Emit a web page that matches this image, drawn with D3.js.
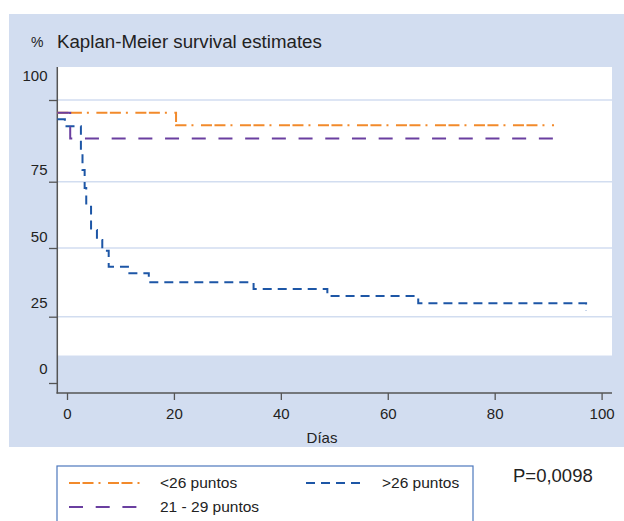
<!DOCTYPE html>
<html>
<head>
<meta charset="utf-8">
<script src="https://cdn.jsdelivr.net/npm/d3@7"></script>
<style>
    body { margin: 0; background: white; }
    svg { display: block; font-family: "Liberation Sans", Arial, sans-serif; }
</style>
</head>
<body>
<svg></svg>
<script>
// Survival data (days, percent surviving)
const days_lt26 = [-1.8, 20.4, 91.1]
const surv_lt26 = [96.1, 92.3, 92.3]

const days_21_29 = [-1.8, 0.6, 92.3]
const surv_21_29 = [96.1, 88.2, 88.2]

const days_gt26 = [-1.8, -0.4, 2.6, 2.9, 3.3, 3.6, 4.5, 5.6, 6.6, 7.8, 11.4, 15.3, 34.9, 48.7, 65.7, 97.1]
const surv_gt26 = [94.1, 92.0, 84.7, 78.6, 72.6, 65.6, 56.8, 53.0, 49.0, 43.2, 40.8, 37.5, 35.1, 32.5, 29.9, 27.2]

const y_ticks = [0, 25, 50, 75, 100]
const x_ticks = [0, 20, 40, 60, 80, 100]

const series_names = ["<26 puntos", ">26 puntos", "21 - 29 puntos"]
const series_colors = ["#f28a2b", "#1d56a6", "#6a3fa0"]
const series_dashes = ["11,2.5,11,5,2,7.5", "9,6", "14,12.7"]

const width = 624
const height = 521
const bg_color = "#d2ddf0"

const svg = d3.select("svg")
    .attr("width", width)
    .attr("height", height)

// Scales (the vertical axis in the original is not evenly spaced)
const x = d3.scaleLinear().domain([0, 100]).range([67, 601.6])
const y = d3.scaleLinear().domain(y_ticks).range([383, 316.7, 248, 181.7, 100])
const y_label = d3.scaleLinear().domain(y_ticks).range([369, 302.5, 237, 169.5, 75.3])

// Background and plot region
svg.append("rect")
    .attr("x", 9).attr("y", 14)
    .attr("width", width - 9).attr("height", 447 - 14)
    .attr("fill", bg_color)

svg.append("rect")
    .attr("x", 57).attr("y", 67)
    .attr("width", 612 - 57).attr("height", 355.5 - 67)
    .attr("fill", "white")

// Grid lines
svg.append("g")
    .selectAll("line")
    .data(y_ticks.filter(d => d > 0))
    .enter()
    .append("line")
    .attr("x1", 57).attr("x2", 612)
    .attr("y1", d => y(d)).attr("y2", d => y(d))
    .style("stroke", bg_color)
    .style("stroke-width", 1.6)

// Title
svg.append("text")
    .attr("x", 31).attr("y", 47)
    .attr("font-size", "14px")
    .attr("fill", "#222")
    .text("%")

svg.append("text")
    .attr("x", 57).attr("y", 47.5)
    .attr("font-size", "18.7px")
    .attr("fill", "#222")
    .text("Kaplan-Meier survival estimates")

// Axes
const y_axis = svg.append("g")
    .attr("transform", "translate(57,0)")
    .call(d3.axisLeft(y).tickValues(y_ticks).tickSize(8).tickFormat(""))
y_axis.select(".domain").remove()
y_axis.selectAll("line").style("stroke", "#555").style("stroke-width", 1.3)

svg.append("g")
    .selectAll("text")
    .data(y_ticks)
    .enter()
    .append("text")
    .attr("x", 47.5)
    .attr("y", d => y_label(d))
    .attr("dy", "0.36em")
    .attr("text-anchor", "end")
    .attr("font-size", "15px")
    .attr("fill", "#222")
    .text(d => d)

const x_axis = svg.append("g")
    .attr("transform", "translate(0,393)")
    .call(d3.axisBottom(x).tickValues(x_ticks).tickSize(7).tickPadding(8))
x_axis.select(".domain").remove()
x_axis.selectAll("line").style("stroke", "#555").style("stroke-width", 1.3)
x_axis.selectAll("text")
    .attr("font-size", "15px")
    .attr("font-family", "Liberation Sans, Arial, sans-serif")
    .attr("fill", "#222")

svg.append("line")
    .attr("x1", 57.3).attr("x2", 57.3)
    .attr("y1", 67).attr("y2", 393.5)
    .style("stroke", "#555").style("stroke-width", 1.5)

svg.append("line")
    .attr("x1", 56.5).attr("x2", 612)
    .attr("y1", 393).attr("y2", 393)
    .style("stroke", "#555").style("stroke-width", 1.5)

svg.append("text")
    .attr("x", 322).attr("y", 443)
    .attr("text-anchor", "middle")
    .attr("font-size", "15px")
    .attr("fill", "#222")
    .text("Días")

// Survival curves
const line = d3.line()
    .x(d => x(d[0]))
    .y(d => y(d[1]))
    .curve(d3.curveStepAfter)

const curves = [
    d3.zip(days_lt26, surv_lt26),
    d3.zip(days_gt26, surv_gt26),
    d3.zip(days_21_29, surv_21_29),
]

svg.append("g")
    .selectAll("path")
    .data(curves)
    .enter()
    .append("path")
    .attr("d", d => line(d))
    .attr("fill", "none")
    .style("stroke", (d, i) => series_colors[i])
    .style("stroke-width", 2)
    .style("stroke-dasharray", (d, i) => series_dashes[i])

// Legend
svg.append("rect")
    .attr("x", 57).attr("y", 466)
    .attr("width", 473 - 57).attr("height", 80)
    .attr("fill", "white")
    .style("stroke", "#4d78bd")
    .style("stroke-width", 1.2)

const legend_pos = [[69, 483], [306, 483], [69, 507]]
const legend_len = [78, 57, 78]

const legend = svg.append("g")
    .selectAll("g")
    .data(series_names)
    .enter()
    .append("g")
    .attr("transform", (d, i) => "translate(" + legend_pos[i][0] + "," + legend_pos[i][1] + ")")

legend.append("line")
    .attr("x1", 0).attr("x2", (d, i) => legend_len[i])
    .attr("y1", 0).attr("y2", 0)
    .style("stroke", (d, i) => series_colors[i])
    .style("stroke-width", 2)
    .style("stroke-dasharray", (d, i) => series_dashes[i])

legend.append("text")
    .attr("x", (d, i) => i == 1 ? 76 : 91)
    .attr("y", 5.3)
    .attr("font-size", "15.5px")
    .attr("fill", "#222")
    .text(d => d)

svg.append("text")
    .attr("x", 513).attr("y", 481.5)
    .attr("font-size", "18.5px")
    .attr("fill", "#222")
    .text("P=0,0098")
</script>
</body>
</html>
